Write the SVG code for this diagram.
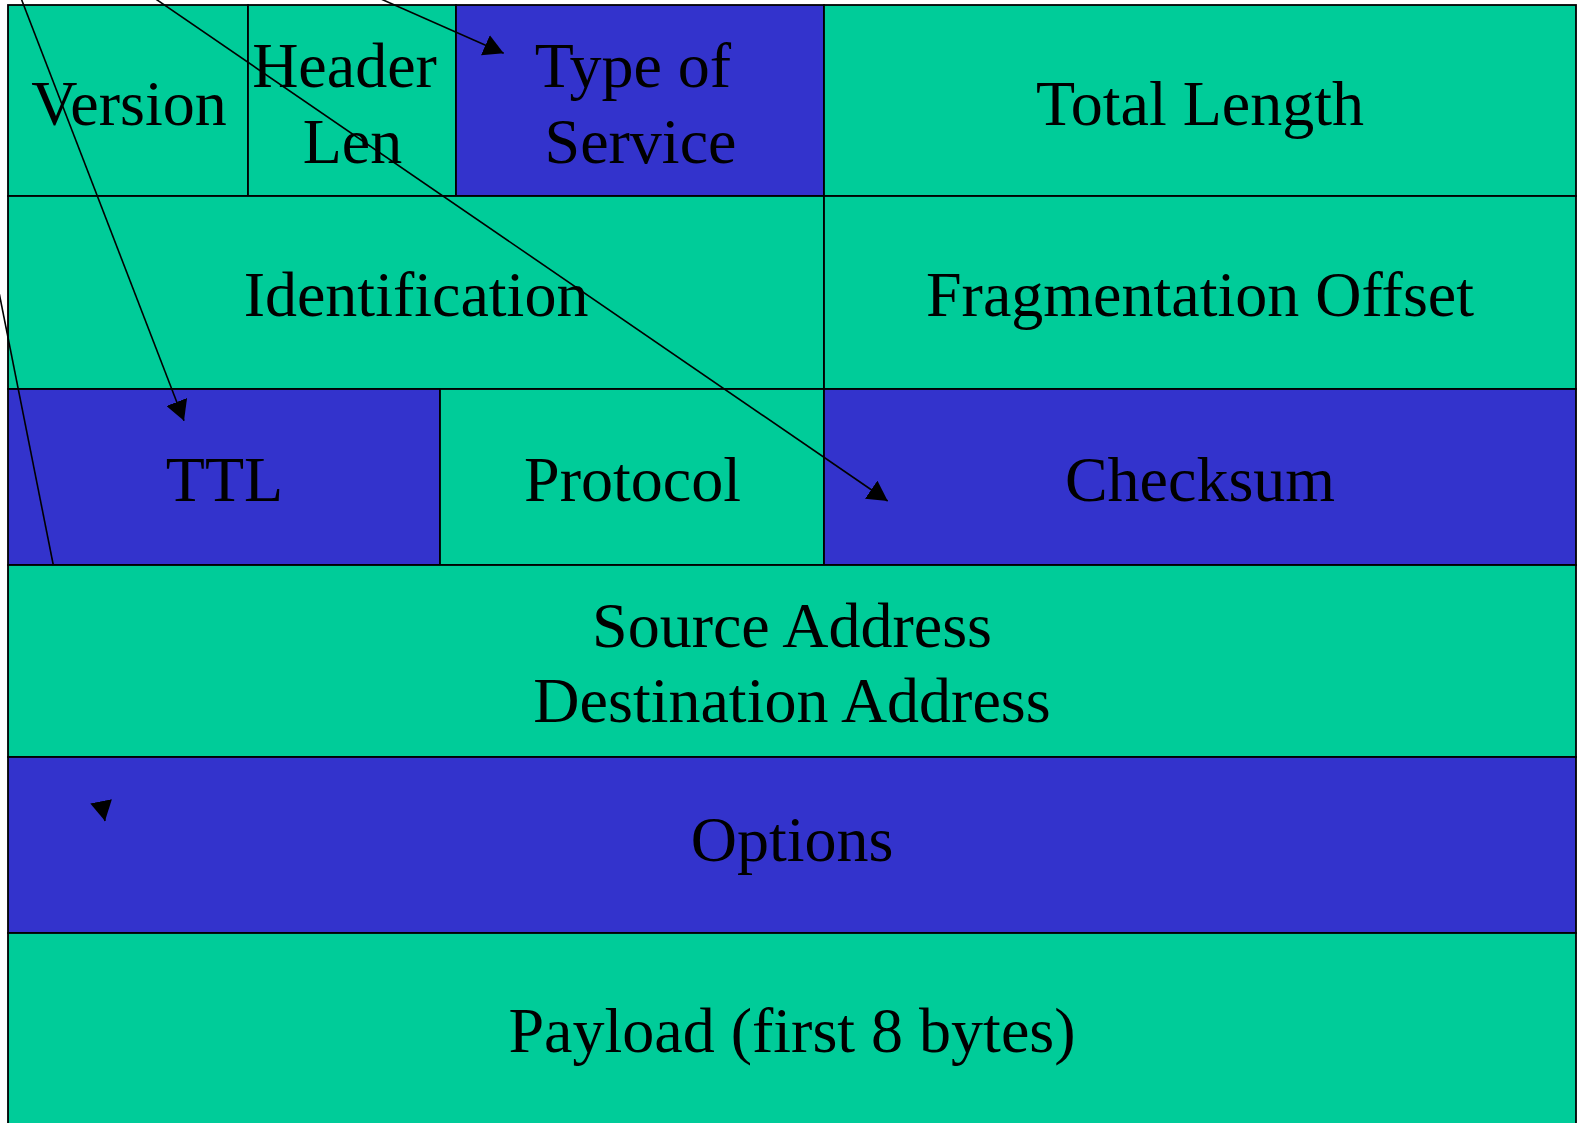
<svg xmlns="http://www.w3.org/2000/svg" width="1577" height="1123" viewBox="0 0 1577 1123">
  <style>
    .cell { stroke: #000000; stroke-width: 1.8; }
    .green { fill: #00CC99; }
    .blue { fill: #3333CC; }
    .lbl { font-family: "Liberation Serif", "Times New Roman", serif; font-size: 64px; fill: #000000; text-anchor: middle; }
    .wire { fill: none; stroke: #000000; stroke-width: 1.6; }
  </style>
  <defs>
    <marker id="head" markerUnits="userSpaceOnUse" markerWidth="22" markerHeight="22" refX="20" refY="11" orient="auto">
      <path d="M0,0 L20,11 L0,22 z" fill="#000000"/>
    </marker>
  </defs>

  <rect x="0" y="0" width="1577" height="1123" fill="#FFFFFF"/>

  <!-- Row 1 -->
  <g id="version">
    <rect class="cell green" x="8" y="5" width="240" height="191"/>
    <text class="lbl" x="129" y="125">Version</text>
  </g>
  <g id="header-len">
    <rect class="cell green" x="248" y="5" width="208" height="191"/>
    <text class="lbl" x="344.5" y="87.3">Header</text>
    <text class="lbl" x="352.5" y="162.7">Len</text>
  </g>
  <g id="type-of-service">
    <rect class="cell blue" x="456" y="5" width="368" height="191"/>
    <text class="lbl" x="633" y="86.7">Type of</text>
    <text class="lbl" x="640.5" y="162.7">Service</text>
  </g>
  <g id="total-length">
    <rect class="cell green" x="824" y="5" width="752" height="191"/>
    <text class="lbl" x="1200" y="125">Total Length</text>
  </g>

  <!-- Row 2 -->
  <g id="identification">
    <rect class="cell green" x="8" y="196" width="816" height="193"/>
    <text class="lbl" x="416" y="316">Identification</text>
  </g>
  <g id="fragmentation-offset">
    <rect class="cell green" x="824" y="196" width="752" height="193"/>
    <text class="lbl" x="1200" y="316">Fragmentation Offset</text>
  </g>

  <!-- Row 3 -->
  <g id="ttl">
    <rect class="cell blue" x="8" y="389" width="432" height="176"/>
    <text class="lbl" x="224.5" y="500.7">TTL</text>
  </g>
  <g id="protocol">
    <rect class="cell green" x="440" y="389" width="384" height="176"/>
    <text class="lbl" x="632.5" y="500.7">Protocol</text>
  </g>
  <g id="checksum">
    <rect class="cell blue" x="824" y="389" width="752" height="176"/>
    <text class="lbl" x="1200" y="500.7">Checksum</text>
  </g>

  <!-- Row 4 -->
  <g id="addresses">
    <rect class="cell green" x="8" y="565" width="1568" height="192"/>
    <text class="lbl" x="792" y="646.7">Source Address</text>
    <text class="lbl" x="792" y="721.7">Destination Address</text>
  </g>

  <!-- Row 5 -->
  <g id="options">
    <rect class="cell blue" x="8" y="757" width="1568" height="176"/>
    <text class="lbl" x="792" y="861">Options</text>
  </g>

  <!-- Row 6 -->
  <g id="payload">
    <rect class="cell green" x="8" y="933" width="1568" height="200"/>
    <text class="lbl" x="792" y="1052.3">Payload (first 8 bytes)</text>
  </g>

  <!-- Connectors -->
  <g id="connectors">
    <line class="wire" x1="14" y1="-20" x2="184" y2="420.7" marker-end="url(#head)"/>
    <line class="wire" x1="128" y1="-20" x2="887.7" y2="501" marker-end="url(#head)"/>
    <line class="wire" x1="338" y1="-20" x2="503.7" y2="53.3" marker-end="url(#head)"/>
    <line class="wire" x1="-20" y1="197" x2="53.3" y2="565"/>
    <line class="wire" x1="103" y1="811" x2="105" y2="821" marker-end="url(#head)"/>
  </g>
</svg>
